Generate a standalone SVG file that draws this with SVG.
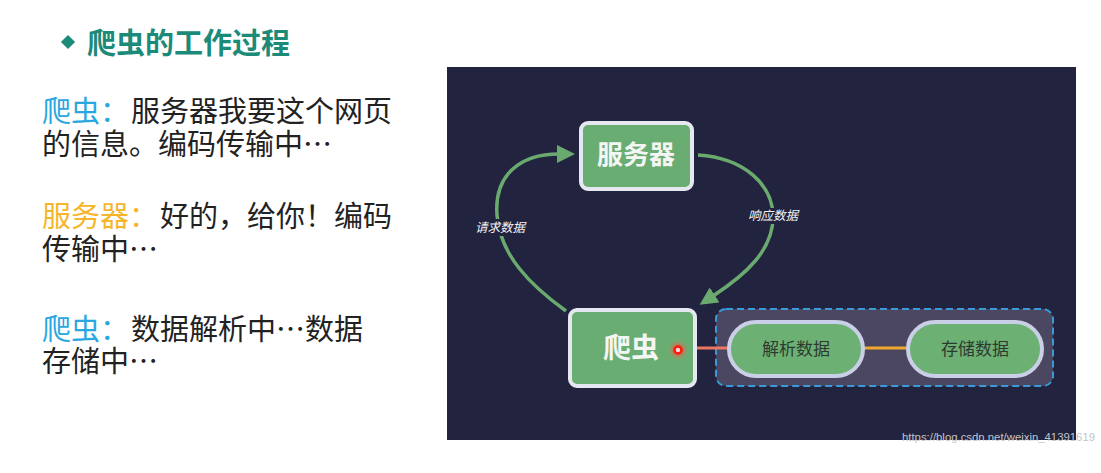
<svg xmlns="http://www.w3.org/2000/svg" width="1101" height="473" viewBox="0 0 1101 473">
  <style>
    .cjk { font-family: "Noto Sans CJK SC", "Noto Sans", sans-serif; }
    .para { font-size: 29px; fill: #222222; }
    .blue { fill: #2aa7e0; }
    .yellow { fill: #f5b62c; }
    .box { fill: #6aad72; stroke: #e6e8f1; stroke-width: 4; }
    .pill { fill: #6db074; stroke: #c9cfe6; stroke-width: 4; }
    .boxtext { font-weight: 700; fill: #f4f6f4; text-anchor: middle; }
    .pilltext { font-size: 17px; fill: #2c3a30; text-anchor: middle; }
    .edge { fill: none; stroke: #6aaa6e; stroke-width: 3.5; }
    .elabel { font-size: 12.5px; font-style: italic; fill: #f2f2f2; text-anchor: middle; }
  </style>
  <defs>
    <marker id="arrow" markerUnits="userSpaceOnUse" markerWidth="18" markerHeight="18" refX="2" refY="9" orient="auto">
      <path d="M0,0 L18,9 L0,18 Z" fill="#6aaa6e"/>
    </marker>
    <radialGradient id="glow">
      <stop offset="0" stop-color="#ff2a1a" stop-opacity="0.9"/>
      <stop offset="0.5" stop-color="#ff4a3a" stop-opacity="0.5"/>
      <stop offset="1" stop-color="#ff6a5a" stop-opacity="0"/>
    </radialGradient>
  </defs>

  <rect width="1101" height="473" fill="#ffffff"/>

  <!-- title -->
  <g id="title">
    <rect x="63" y="37" width="10" height="10" fill="#1b8a78" transform="rotate(45 68 42)"/>
    <text x="87" y="54" class="cjk" font-size="29" font-weight="700" fill="#1b8a78">爬虫的工作过程</text>
  </g>

  <!-- left paragraph -->
  <g id="dialogue" class="cjk para">
    <text x="42" y="122" class="blue">爬虫：</text>
    <text x="131" y="122">服务器我要这个网页</text>
    <text x="42" y="155">的信息。编码传输中…</text>
    <text x="42" y="227" class="yellow">服务器：</text>
    <text x="160" y="227">好的，给你！编码</text>
    <text x="42" y="260">传输中…</text>
    <text x="42" y="340" class="blue">爬虫：</text>
    <text x="131" y="340">数据解析中…数据</text>
    <text x="42" y="372">存储中…</text>
  </g>

  <!-- panel -->
  <rect id="panel" x="447" y="67" width="629" height="373" fill="#21233f"/>

  <!-- group container -->
  <g id="processing-group">
    <rect x="716" y="309" width="337" height="77" rx="10" fill="#4b4760" stroke="#3a9ad9" stroke-width="2" stroke-dasharray="7 4"/>
  </g>

  <!-- connectors -->
  <g id="connectors">
    <path class="edge" d="M566,311 C530,285 500,255 497,215 C494,175 520,154 559,154" marker-end="url(#arrow)"/>
    <path class="edge" d="M698,155 C745,158 772,185 773,215 C774,250 745,275 713,296" marker-end="url(#arrow)"/>
    <line x1="683" y1="348" x2="729" y2="348" stroke="#ec7666" stroke-width="3"/>
    <line x1="863" y1="348" x2="908" y2="348" stroke="#f0a830" stroke-width="3"/>
    <rect x="474" y="219" width="52" height="17" fill="#21233f"/>
    <text x="500" y="232" class="cjk elabel">请求数据</text>
    <rect x="747" y="208" width="53" height="16" fill="#21233f"/>
    <text x="773" y="220" class="cjk elabel">响应数据</text>
  </g>

  <g id="server">
    <rect class="box" x="581" y="123" width="111" height="66" rx="7"/>
    <text x="636" y="164" class="cjk boxtext" font-size="26">服务器</text>
  </g>

  <g id="crawler">
    <rect class="box" x="570" y="310" width="125" height="76" rx="7"/>
    <text x="631" y="358" class="cjk boxtext" font-size="28">爬虫</text>
    <circle cx="678" cy="350" r="10" fill="url(#glow)"/>
    <circle cx="678" cy="350" r="3.5" fill="#ffd8d0" stroke="#ff1a10" stroke-width="2.5"/>
  </g>

  <g id="parse">
    <rect class="pill" x="729" y="322" width="134" height="54" rx="27"/>
    <text x="796" y="355" class="cjk pilltext">解析数据</text>
  </g>

  <g id="store">
    <rect class="pill" x="908" y="322" width="134" height="54" rx="27"/>
    <text x="975" y="355" class="cjk pilltext">存储数据</text>
  </g>

  <text id="watermark" x="902" y="441" font-family="Liberation Sans, sans-serif" font-size="11.5" fill="#c4c4c8" textLength="193" lengthAdjust="spacingAndGlyphs">https://blog.csdn.net/weixin_41391619</text>
</svg>
